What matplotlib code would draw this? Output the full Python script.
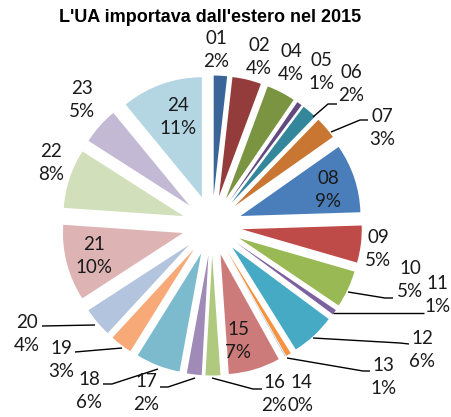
import matplotlib
matplotlib.use('Agg')
import matplotlib.pyplot as plt

# chapters and their share of imports (%)
chapters = ['01', '02', '04', '05', '06', '07', '08', '09', '10', '11', '12', '13',
            '14', '15', '16', '17', '18', '19', '20', '21', '22', '23', '24']
shares = [1.8, 3.9, 3.9, 0.7, 2.0, 3.0, 9.3, 5.0, 5.0, 0.7, 6.0, 0.7,
          0.1, 7.0, 2.0, 2.0, 6.0, 3.0, 4.0, 10.3, 8.0, 5.0, 11.0]
pct_labels = ['2%', '4%', '4%', '1%', '2%', '3%', '9%', '5%', '5%', '1%', '6%', '1%',
              '0%', '7%', '2%', '2%', '6%', '3%', '4%', '10%', '8%', '5%', '11%']

colors = ['#3B6598', '#943C3B', '#7A9441', '#62497E', '#34879A', '#C87631',
          '#4A7EBB', '#BE4B48', '#98B954', '#7D60A0', '#46AAC5', '#F69240',
          '#A7C0DE', '#CD7B7A', '#AFC97E', '#A08AB8', '#7CBACD', '#F8A978',
          '#B3C4DE', '#DDB4B3', '#D1DFBA', '#C4B9D4', '#B4D6E2']

W, H = 452, 417
CX, CY, R = 212, 225.5, 120.0


def px(x, y):
    # pixel position (from top-left) -> data coords of the pie axes
    return (x - CX) / R, (CY - y) / R


# label block centres in pixels
label_pos = [(216, 50), (259, 57), (291, 63), (321, 72), (351, 84), (382, 128),
             (328, 190), (378, 249), (410, 280), (437, 295), (422, 350), (383, 377),
             (301, 394), (238, 341), (274, 394), (146, 393), (89, 391), (61, 360),
             (27, 334), (94, 256), (51, 163), (82, 100), (178, 117)]

# leader lines: start on the slice, then elbow/end near the label (pixels)
leaders = {
    '06': [(313, 117), (328, 104), (337, 104)],
    '07': [(331, 132), (360, 120), (368, 120)],
    '10': [(348, 292), (385, 298), (393, 298)],
    '11': [(333, 313), (424, 313)],
    '12': [(313, 338), (400, 343), (409, 344)],
    '13': [(287, 358), (363, 371), (370, 371)],
    '16': [(212, 378), (253, 389), (262, 389)],
    '17': [(195, 378), (168, 387), (160, 387)],
    '18': [(158, 369), (112, 384), (103, 384)],
    '19': [(122, 348), (75, 352)],
    '20': [(95, 325), (42, 326)],
}

fig = plt.figure(figsize=(W / 100, H / 100), dpi=100)
ax = fig.add_axes([0, 0, 1, 1])

ax.pie(shares, startangle=90, counterclock=False, colors=colors,
       explode=[0.25] * len(shares), radius=1.0,
       wedgeprops=dict(linewidth=0))

ax.set_aspect('auto')
ax.set_xlim(px(0, 0)[0], px(W, 0)[0])
ax.set_ylim(px(0, H)[1], px(0, 0)[1])
ax.axis('off')

for name, pct, (lx, ly) in zip(chapters, pct_labels, label_pos):
    x, y = px(lx, ly)
    ax.text(x, y, f'{name}\n{pct}', ha='center', va='center', fontsize=13.5,
            family='Lato', color='#1a1a1a', linespacing=1.45)

for name, pts in leaders.items():
    xs, ys = zip(*[px(p[0], p[1]) for p in pts])
    ax.plot(xs, ys, color='black', linewidth=1.0, solid_capstyle='butt')

fig.text(210 / W, 1 - 17.5 / H, "L'UA importava dall'estero nel 2015",
         ha='center', va='center', fontsize=13, fontweight='bold',
         family='Liberation Sans')

fig.savefig('out.png', dpi=100)
